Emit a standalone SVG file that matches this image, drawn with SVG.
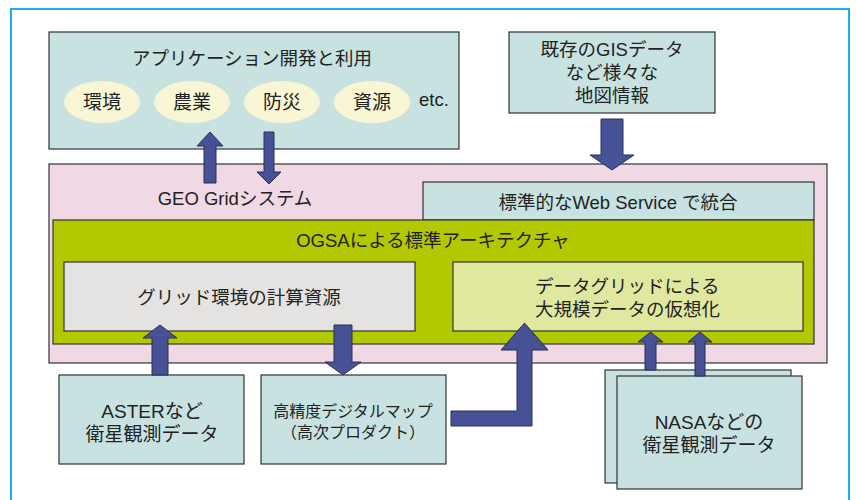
<svg xmlns="http://www.w3.org/2000/svg" width="856" height="500" viewBox="0 0 856 500">
<style>
text { font-family: "Liberation Sans", "Noto Sans CJK JP", sans-serif; fill: #222; text-anchor: middle; }
.box { stroke: #333; stroke-width: 1.2; }
.teal { fill: #c8e2e2; }
.arrow { fill: #465196; stroke: #2a2f55; stroke-width: 1; }
.ell { fill: #f8f6d4; }
.t18 { font-size: 18.5px; }
.t19 { font-size: 19px; }
.t16 { font-size: 16px; }
</style>
<rect x="11" y="9" width="838" height="510" fill="#ffffff" stroke="#1ab0e8" stroke-width="2"/>

<g id="app">
  <rect class="box teal" x="49" y="32" width="410" height="117"/>
  <text class="t18" x="252" y="65">アプリケーション開発と利用</text>
  <g id="kankyo"><ellipse class="ell" cx="102" cy="102" rx="38" ry="21"/><text class="t19" x="102" y="109">環境</text></g>
  <g id="nougyou"><ellipse class="ell" cx="192" cy="102" rx="38" ry="21"/><text class="t19" x="192" y="109">農業</text></g>
  <g id="bousai"><ellipse class="ell" cx="282" cy="102" rx="38" ry="21"/><text class="t19" x="282" y="109">防災</text></g>
  <g id="shigen"><ellipse class="ell" cx="372" cy="102" rx="38" ry="21"/><text class="t19" x="372" y="109">資源</text></g>
  <text class="t18" x="434" y="106">etc.</text>
</g>

<g id="gis">
  <rect class="box teal" x="509" y="32" width="206" height="81"/>
  <text class="t18" x="612" y="56">既存のGISデータ</text>
  <text class="t18" x="612" y="79">など様々な</text>
  <text class="t18" x="612" y="102">地図情報</text>
</g>

<g id="geogrid">
  <rect class="box" x="49" y="164" width="778" height="199" fill="#f1d8e5"/>
  <text class="t18" x="235" y="205">GEO Gridシステム</text>
</g>

<g id="webservice">
  <rect class="box teal" x="423" y="182" width="391" height="38"/>
  <text class="t18" x="618" y="209">標準的なWeb Service で統合</text>
</g>

<g id="ogsa">
  <rect class="box" x="53" y="220" width="761" height="124" fill="#b2c800"/>
  <text class="t18" x="433" y="247">OGSAによる標準アーキテクチャ</text>
</g>

<g id="compute">
  <rect class="box" x="64" y="262" width="351" height="69" fill="#e4e3e1"/>
  <text class="t18" x="239" y="304">グリッド環境の計算資源</text>
</g>

<g id="datagrid">
  <rect class="box" x="453" y="262" width="350" height="69" fill="#e0e8a0"/>
  <text class="t18" x="535" y="293" style="text-anchor:start">データグリッドによる</text>
  <text class="t18" x="535" y="316" style="text-anchor:start">大規模データの仮想化</text>
</g>

<g id="aster">
  <rect class="box teal" x="59" y="375" width="185" height="89"/>
  <text class="t19" x="152" y="418">ASTERなど</text>
  <text class="t19" x="152" y="441">衛星観測データ</text>
</g>

<g id="dem">
  <rect class="box teal" x="261" y="375" width="185" height="89"/>
  <text class="t16" x="353" y="417">高精度デジタルマップ</text>
  <text class="t16" x="353" y="438">（高次プロダクト）</text>
</g>

<g id="nasa">
  <rect class="box teal" x="605" y="370" width="186" height="113"/>
  <rect class="box teal" x="617" y="376" width="185" height="113"/>
  <text class="t19" x="709" y="429">NASAなどの</text>
  <text class="t19" x="709" y="452">衛星観測データ</text>
</g>

<g id="connectors">
  <polygon class="arrow" points="204,183 204,146 197,146 210,132 223,146 216,146 216,183"/>
  <polygon class="arrow" points="264,132 274,132 274,172 281,172 269,184 257,172 264,172"/>
  <polygon class="arrow" points="601,119 623,119 623,155 634,155 612,170 590,155 601,155"/>
  <polygon class="arrow" points="152,375 152,338 143,338 160,325 177,338 168,338 168,375"/>
  <polygon class="arrow" points="334,325 352,325 352,362 361,362 343,375 325,362 334,362"/>
  <polygon class="arrow" points="451,411 517,411 517,350 501,350 524.5,323 548,350 532,350 532,426 451,426"/>
  <polygon class="arrow" points="645,370 645,342 638,342 650.5,332 663,342 656,342 656,370"/>
  <polygon class="arrow" points="695,376 695,342 688,342 700,332 712,342 705,342 705,376"/>
</g>
</svg>
